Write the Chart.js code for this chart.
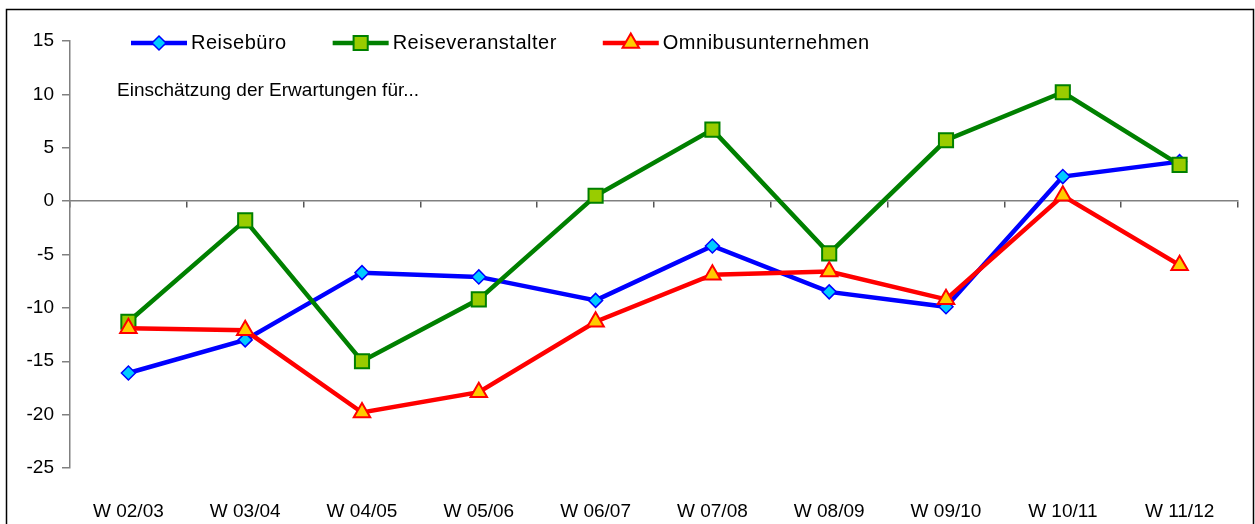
<!DOCTYPE html>
<html>
<head>
<meta charset="utf-8">
<script src="https://cdn.jsdelivr.net/npm/chart.js@4.4.1/dist/chart.umd.min.js"></script>
<style>
  html, body { margin: 0; padding: 0; background: #fff; }
  #wrap { position: relative; width: 1255px; height: 524px; }
</style>
</head>
<body>
<div id="wrap"><canvas id="chart"></canvas></div>
<script>
// season labels on the x axis
const seasons = ['W 02/03', 'W 03/04', 'W 04/05', 'W 05/06', 'W 06/07', 'W 07/08', 'W 08/09', 'W 09/10', 'W 10/11', 'W 11/12'];

// series values
const reisebuero        = [-16.1, -13.0, -6.7, -7.1, -9.3, -4.2, -8.5, -9.9, 2.3, 3.7];
const reiseveranstalter = [-11.3, -1.8, -15.0, -9.2, 0.5, 6.7, -4.9, 5.7, 10.2, 3.4];
const omnibus           = [-11.9, -12.1, -19.8, -17.9, -11.3, -6.9, -6.6, -9.2, 0.5, -6.0];

// y axis range
const yMin = -25;
const yMax = 15;
const yStep = 5;

const note = 'Einschätzung der Erwartungen für...';

const tickFont = "'Liberation Sans', Arial, sans-serif";

// draws the frame, the in-plot legend and the little note
const decorations = {
  id: 'decorations',
  afterDraw(chart) {
    const ctx = chart.ctx;
    const helpers = Chart.helpers;
    ctx.save();

    // outer frame
    ctx.strokeStyle = '#000';
    ctx.lineWidth = 1.5;
    ctx.strokeRect(6.5, 9.5, 1247, 530);

    // legend: line + marker + label
    ctx.font = "20px " + tickFont;
    ctx.letterSpacing = '0.5px';
    ctx.textBaseline = 'middle';
    ctx.textAlign = 'left';
    let x = 131;
    const y = 43;
    chart.data.datasets.forEach(ds => {
      ctx.strokeStyle = ds.borderColor;
      ctx.lineWidth = ds.borderWidth;
      ctx.beginPath();
      ctx.moveTo(x, y);
      ctx.lineTo(x + 56, y);
      ctx.stroke();
      ctx.fillStyle = ds.pointBackgroundColor;
      ctx.strokeStyle = ds.pointBorderColor;
      ctx.lineWidth = ds.pointBorderWidth;
      helpers.drawPoint(ctx, {
        pointStyle: ds.pointStyle,
        radius: ds.pointRadius,
        rotation: 0,
        borderWidth: ds.pointBorderWidth
      }, x + 28, y);
      ctx.fillStyle = '#000';
      ctx.fillText(ds.label, x + 60, y);
      x += 60 + ctx.measureText(ds.label).width + 46;
    });

    ctx.letterSpacing = '0px';
    ctx.font = "19px " + tickFont;
    ctx.fillText(note, 117, 91);
    ctx.restore();
  }
};

new Chart(document.getElementById('chart'), {
  type: 'line',
  data: {
    labels: seasons,
    datasets: [
      {
        label: 'Reisebüro',
        data: reisebuero,
        xAxisID: 'x',
        borderColor: '#0000FF',
        borderWidth: 4.5,
        pointStyle: 'rectRot',
        pointRadius: 7,
        pointBackgroundColor: '#00CCFF',
        pointBorderColor: '#0000FF',
        pointBorderWidth: 1.5,
        tension: 0,
        order: 3
      },
      {
        label: 'Reiseveranstalter',
        data: reiseveranstalter,
        xAxisID: 'x',
        borderColor: '#008000',
        borderWidth: 4.5,
        pointStyle: 'rect',
        pointRadius: 10,
        pointBackgroundColor: '#99CC00',
        pointBorderColor: '#008000',
        pointBorderWidth: 2,
        tension: 0,
        order: 2
      },
      {
        label: 'Omnibusunternehmen',
        data: omnibus,
        xAxisID: 'x',
        borderColor: '#FF0000',
        borderWidth: 4.5,
        pointStyle: 'triangle',
        pointRadius: 9.5,
        pointBackgroundColor: '#FFCC00',
        pointBorderColor: '#FF0000',
        pointBorderWidth: 2,
        tension: 0,
        order: 1
      }
    ]
  },
  options: {
    responsive: true,
    maintainAspectRatio: false,
    animation: false,
    layout: { padding: { top: 41, right: 17, bottom: 0, left: 0 } },
    plugins: {
      legend: { display: false },
      tooltip: { enabled: false }
    },
    scales: {
      x: {
        type: 'category',
        offset: true,
        grid: { display: false },
        border: { display: false },
        ticks: { color: '#000', padding: 24, maxRotation: 0, font: { family: tickFont, size: 19 } },
        afterFit: scale => { scale.height = 56; }
      },
      // zero line with the category tick marks
      x2: {
        type: 'category',
        position: { y: 0 },
        offset: true,
        grid: { offset: true, drawOnChartArea: false, drawTicks: true, tickLength: 6, color: '#555', lineWidth: 1.5 },
        border: { display: true, color: '#808080', width: 1.5 },
        ticks: { display: false }
      },
      y: {
        min: yMin,
        max: yMax,
        ticks: { stepSize: yStep, color: '#000', padding: 8, font: { family: tickFont, size: 19 } },
        grid: { drawOnChartArea: false, tickLength: 8, color: '#808080', lineWidth: 1.5 },
        border: { display: true, color: '#808080', width: 1.5 },
        afterFit: scale => { scale.width = 70; }
      }
    }
  },
  plugins: [decorations]
});
</script>
</body>
</html>
